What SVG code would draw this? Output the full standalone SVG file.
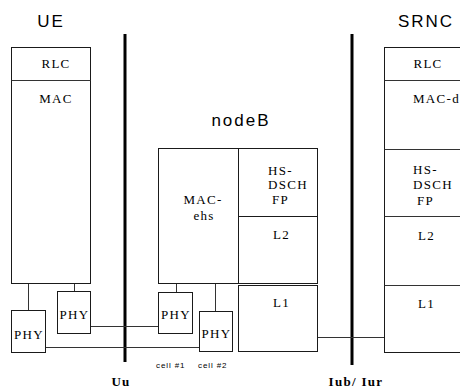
<svg xmlns="http://www.w3.org/2000/svg" width="460" height="390" viewBox="0 0 460 390">
<style>
.box{fill:#fff;stroke:#1a1a1a;stroke-width:1}
.ln{stroke:#333;stroke-width:1;fill:none}
.bar{stroke:#000;stroke-width:3;fill:none}
.title{font-family:"Liberation Sans",Arial,sans-serif;font-size:17px;fill:#000;text-anchor:middle;letter-spacing:2px}
.lab{font-family:"Liberation Serif","Times New Roman",serif;font-size:13px;fill:#000;letter-spacing:1.3px}
.mid{text-anchor:middle}
.cell{font-family:"Liberation Sans",Arial,sans-serif;font-size:8px;fill:#000;letter-spacing:0.9px}
.iface{font-family:"Liberation Serif","Times New Roman",serif;font-size:13px;font-weight:bold;fill:#000;text-anchor:middle;letter-spacing:1.3px}
</style>
<rect width="460" height="390" fill="#fff"/>
<g id="connectors">
<line class="bar" x1="125" y1="34" x2="125" y2="362"/>
<line class="bar" x1="352" y1="34" x2="352" y2="365"/>
<line class="ln" x1="28.5" y1="284" x2="28.5" y2="310"/>
<line class="ln" x1="74.5" y1="284" x2="74.5" y2="291"/>
<line class="ln" x1="176.5" y1="284" x2="176.5" y2="292"/>
<line class="ln" x1="215.5" y1="284" x2="215.5" y2="311"/>
<line class="ln" x1="91" y1="326.5" x2="158" y2="326.5"/>
<line class="ln" x1="46" y1="347.5" x2="199" y2="347.5"/>
<line class="ln" x1="317" y1="337.5" x2="384" y2="337.5"/>
</g>
<g id="UE">
<text class="title" x="51" y="27">UE</text>
<rect class="box" x="11.5" y="47.5" width="79" height="236"/>
<line class="ln" x1="11.5" y1="80.5" x2="90.5" y2="80.5"/>
<text class="lab mid" x="56" y="68">RLC</text>
<text class="lab mid" x="56" y="103">MAC</text>
</g>
<g id="UE-PHY-1">
<rect class="box" x="11.5" y="310.5" width="34" height="42"/>
<text class="lab mid" x="29" y="339">PHY</text>
</g>
<g id="UE-PHY-2">
<rect class="box" x="57.5" y="291.5" width="33" height="42"/>
<text class="lab mid" x="74.5" y="319">PHY</text>
</g>
<g id="nodeB">
<text class="title" x="241" y="126">nodeB</text>
<rect class="box" x="158.5" y="148.5" width="80" height="135"/>
<text class="lab mid" x="203" y="204">MAC-</text>
<text class="lab mid" x="204" y="220">ehs</text>
<rect class="box" x="238.5" y="148.5" width="79" height="68"/>
<text class="lab" x="268" y="175">HS-</text>
<text class="lab" x="268" y="189">DSCH</text>
<text class="lab" x="272" y="204">FP</text>
<rect class="box" x="238.5" y="216.5" width="79" height="67"/>
<text class="lab" x="273" y="239">L2</text>
<rect class="box" x="238.5" y="285.5" width="79" height="66"/>
<text class="lab" x="273" y="307">L1</text>
</g>
<g id="nodeB-PHY-1">
<rect class="box" x="158.5" y="292.5" width="34" height="41"/>
<text class="lab mid" x="176" y="319">PHY</text>
<text class="cell" x="156" y="368">cell #1</text>
</g>
<g id="nodeB-PHY-2">
<rect class="box" x="199.5" y="311.5" width="33" height="40"/>
<text class="lab mid" x="216.5" y="338">PHY</text>
<text class="cell" x="198" y="368">cell #2</text>
</g>
<g id="SRNC">
<text class="title" x="426" y="27">SRNC</text>
<rect class="box" x="384.5" y="47.5" width="80" height="305"/>
<line class="ln" x1="384.5" y1="80.5" x2="464" y2="80.5"/>
<line class="ln" x1="384.5" y1="149.5" x2="464" y2="149.5"/>
<line class="ln" x1="384.5" y1="216.5" x2="464" y2="216.5"/>
<line class="ln" x1="384.5" y1="285.5" x2="464" y2="285.5"/>
<text class="lab mid" x="428" y="68">RLC</text>
<text class="lab" x="413" y="103">MAC-d</text>
<text class="lab" x="413" y="174">HS-</text>
<text class="lab" x="413" y="189">DSCH</text>
<text class="lab" x="417" y="205">FP</text>
<text class="lab" x="418" y="240">L2</text>
<text class="lab" x="418" y="308">L1</text>
</g>
<g id="interfaces">
<text class="iface" x="121" y="386">Uu</text>
<text class="iface" x="356" y="386">Iub/ Iur</text>
</g>
</svg>
